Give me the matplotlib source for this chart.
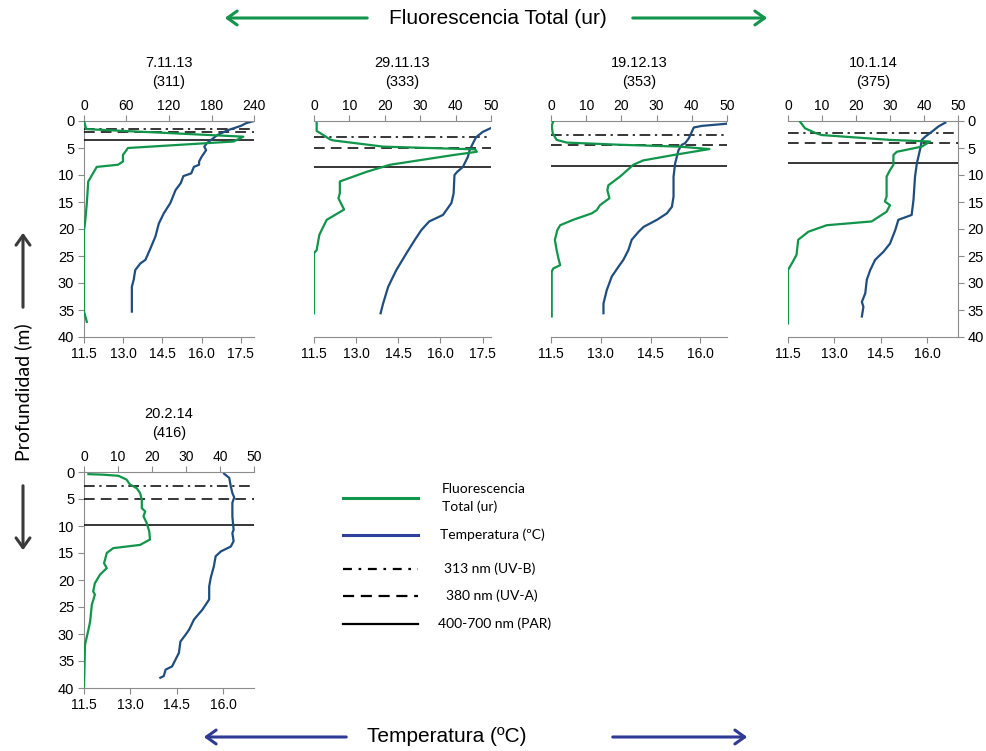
import matplotlib
matplotlib.use("Agg")
import matplotlib.pyplot as plt
from matplotlib.lines import Line2D
from matplotlib.patches import FancyArrowPatch

plt.rcParams['font.family'] = ['Liberation Sans', 'DejaVu Sans']

# ---- data ----
dates = ["7.11.13", "29.11.13", "19.12.13", "10.1.14", "20.2.14"]
days = ["(311)", "(333)", "(353)", "(375)", "(416)"]

# fluorescence (ur) vs depth (m)
fl_depth = [
    [0, 0.9, 1.5, 2.9, 3.8, 5.0, 6.3, 7.5, 8.1, 8.5, 11.2, 15.2, 19.0, 20.2, 35.3, 37.2],
    [0.4, 1.85, 2.3, 3.4, 3.6, 4.75, 5.25, 5.7, 6.3, 8.1, 9.4, 11.2, 13.4, 14.3, 16.4, 18.3,
     19.6, 21.1, 23.9, 24.5, 35.6],
    [0, 0.9, 2.3, 3.5, 4.0, 4.4, 4.75, 5.2, 6.3, 7.3, 8.1, 10.3, 11.9, 12.8, 14.3, 15.6, 16.5,
     17.1, 18.3, 19.3, 20.2, 22.0, 23.9, 25.4, 26.7, 27.3, 27.9, 36.2],
    [0.1, 1.35, 2.3, 2.6, 3.5, 3.8, 4.75, 5.7, 6.3, 8.1, 9.1, 10.3, 14.0, 14.9, 15.6, 16.8,
     18.6, 19.3, 20.5, 22.0, 24.8, 26.4, 27.6, 37.5],
    [0.4, 0.5, 0.7, 1.4, 2.3, 3.0, 3.9, 5.1, 6.7, 7.3, 8.2, 9.4, 11.0, 12.5, 13.5, 14.1, 15.0,
     16.9, 17.8, 19.0, 20.6, 22.1, 22.7, 24.6, 27.7, 29.2, 32.0, 39.7],
]
fl_vals = [
    [0, 1.9, 3, 225, 211, 62, 55, 55, 48, 18, 6, 4, 1.4, 0, 0, 4],
    [0.75, 0.75, 1.9, 4.5, 5.5, 19.6, 45.5, 46, 39.4, 21.5, 14.9, 7.3, 7.3, 6.9, 8.5, 3.6,
     2.6, 1.5, 0.75, 0, 0],
    [0.66, 0.2, 0.5, 1.6, 4.5, 19.6, 36.6, 45, 34.8, 26.2, 23.4, 19.6, 16.3, 16, 16.6, 13.9, 13,
     11.6, 6.3, 2.6, 1.8, 1.1, 1.6, 2.1, 2.6, 0.66, 0.2, 0.2],
    [3.5, 5, 8.4, 9.9, 30, 41.8, 39.3, 32, 31, 31, 30, 29, 29, 28.5, 30, 29,
     24.6, 11.4, 6, 3, 2.5, 1.1, 0, 0],
    [1.3, 5.7, 10.1, 12.5, 13.5, 15.5, 16.5, 17, 17, 18, 17.5, 18.4, 19.2, 19.4, 16.5, 8.6, 6.7,
     5.9, 6.7, 4.7, 3.2, 2.7, 3.2, 2.3, 1.8, 1.3, 0.3, 0],
]

# temperature (ºC) vs depth (m)
t_depth = [
    [0, 0.4, 0.9, 1.7, 2.6, 4.1, 4.75, 5.4, 6.6, 7.5, 8.1, 8.5, 9.7, 10.2, 11.5, 12.8, 15.2,
     17.1, 19.0, 21.4, 23.6, 25.7, 26.4, 27.6, 29.4, 30.7, 35.3],
    [1.35, 2.0, 3.0, 4.1, 5.4, 6.6, 8.5, 9.4, 10.0, 13.4, 15.2, 17.4, 18.6, 20.2, 22.0, 24.5,
     27.6, 30.7, 33.8, 35.6],
    [0, 0.5, 0.9, 1.2, 3.2, 4.1, 4.4, 5.4, 7.8, 10.3, 14.0, 15.9, 17.1, 18.3, 19.6, 20.5, 22.0,
     23.9, 25.7, 27.0, 28.8, 31.3, 33.8, 35.6],
    [0.3, 1.0, 2.0, 2.9, 3.5, 5.1, 7.8, 10.3, 14.6, 17.4, 18.3, 20.2, 22.7, 24.2, 25.7, 27.6,
     29.4, 31.9, 33.5, 34.4, 36.2],
    [0.3, 1.1, 2.7, 3.9, 4.7, 5.7, 8.2, 10.7, 11.3, 12.8, 13.8, 14.7, 15.6, 17.5, 19.6, 21.2,
     23.6, 25.5, 27.3, 29.2, 30.1, 31.4, 33.5, 36.0, 36.6, 37.8, 38.1],
]
t_vals = [
    [18.0, 17.7, 17.5, 17.0, 16.6, 16.2, 16.1, 16.17, 16.0, 15.9, 15.9, 15.7, 15.6, 15.3, 15.2,
     15.0, 14.8, 14.55, 14.36, 14.23, 14.04, 13.85, 13.65, 13.46, 13.4, 13.33, 13.33],
    [17.78, 17.51, 17.27, 17.16, 17.04, 16.98, 16.8, 16.6, 16.5, 16.47, 16.39, 16.09, 15.6,
     15.32, 15.09, 14.79, 14.43, 14.14, 13.96, 13.87],
    [16.85, 16.8, 16.05, 15.8, 15.65, 15.54, 15.44, 15.34, 15.24, 15.19, 15.19, 15.14, 14.99,
     14.69, 14.29, 14.14, 13.93, 13.83, 13.68, 13.53, 13.33, 13.18, 13.08, 13.08],
    [16.59, 16.37, 16.15, 15.94, 15.83, 15.78, 15.67, 15.61, 15.56, 15.5, 15.07, 14.97, 14.8,
     14.59, 14.32, 14.16, 14.05, 14.0, 13.89, 13.94, 13.89],
    [16.03, 16.2, 16.25, 16.3, 16.36, 16.3, 16.3, 16.34, 16.3, 16.34, 16.25, 15.93, 15.76, 15.7,
     15.6, 15.55, 15.55, 15.33, 15.06, 14.9, 14.79, 14.62, 14.57, 14.35, 14.14, 14.08, 13.97],
]

# light penetration depths (m)
uvb_depth = [1.5, 3.0, 2.5, 2.3, 2.5]
uva_depth = [2.0, 5.0, 4.4, 4.0, 5.0]
par_depth = [3.5, 8.5, 8.3, 7.8, 9.9]

fl_max = [240, 50, 50, 50, 50]
fl_ticks = [[0, 60, 120, 180, 240]] + [[0, 10, 20, 30, 40, 50]] * 4
t_max = [18.0, 17.8, 16.8, 17.0, 17.0]
t_ticks = [[11.5, 13.0, 14.5, 16.0, 17.5]] * 2 + [[11.5, 13.0, 14.5, 16.0]] * 3
depth_ticks = list(range(0, 41, 5))

# ---- layout ----
W, H = 987, 751
GREEN = "#10954a"
BLUE = "#1f4e7e"
GREY = "#8c8c8c"

# panel boxes in pixels: left, top, right, bottom
boxes = [(84, 121, 254, 337), (314, 121, 491, 337), (551, 121, 727, 337),
         (788, 121, 958, 337), (84, 472, 254, 688)]
yside = ["left", None, None, "right", "left"]

fig = plt.figure(figsize=(W / 100, H / 100), dpi=100)

for i in range(5):
    l, t, r, b = boxes[i]
    ax = fig.add_axes([l / W, 1 - b / H, (r - l) / W, (b - t) / H])
    ax.set_xlim(11.5, t_max[i])
    ax.set_ylim(40, 0)
    ax.set_xticks(t_ticks[i])
    ax.set_xticklabels([f"{v:.1f}" for v in t_ticks[i]])
    ax2 = ax.twiny()
    ax2.set_xlim(0, fl_max[i])
    ax2.set_xticks(fl_ticks[i])

    for a in (ax, ax2):
        for s in a.spines.values():
            s.set_visible(False)
            s.set_color(GREY)
    ax.spines["bottom"].set_visible(True)
    ax2.spines["top"].set_visible(True)
    ax.tick_params(axis="x", colors=GREY, labelcolor="black", labelsize=10, length=4, pad=3)
    ax2.tick_params(axis="x", colors=GREY, labelcolor="black", labelsize=10, length=4, pad=2)

    if yside[i] is None:
        ax.set_yticks([])
    else:
        ax.spines[yside[i]].set_visible(True)
        ax.set_yticks(depth_ticks)
        if yside[i] == "right":
            ax.yaxis.tick_right()
        ax.tick_params(axis="y", colors=GREY, labelcolor="black", labelsize=10.5, length=4, pad=3)

    ax.axhline(uvb_depth[i], color="black", lw=1.1, ls=(0, (7, 3, 1.5, 3)), zorder=3)
    ax.axhline(uva_depth[i], color="black", lw=1.1, ls=(0, (7, 4)), zorder=3)
    ax.axhline(par_depth[i], color="black", lw=1.1, zorder=3)

    ax.plot(t_vals[i], t_depth[i], color=BLUE, lw=1.6, zorder=4)
    ax2.plot(fl_vals[i], fl_depth[i], color=GREEN, lw=1.6, zorder=4)

    cx = (l + r) / 2 / W
    fig.text(cx, 1 - (t - 58) / H, dates[i], ha="center", va="center", fontsize=10.5)
    fig.text(cx, 1 - (t - 39) / H, days[i], ha="center", va="center", fontsize=10.5)


# ---- big axis labels with arrows ----
def arrow(x0, y0, x1, y1, color):
    fig.add_artist(FancyArrowPatch((x0 / W, 1 - y0 / H), (x1 / W, 1 - y1 / H),
                                   transform=fig.transFigure,
                                   arrowstyle="->,head_length=7,head_width=5",
                                   color=color, lw=2.2, mutation_scale=1))


arrow(370, 18, 222, 18, GREEN)
arrow(630, 18, 770, 18, GREEN)
fig.text(498 / W, 1 - 18 / H, "Fluorescencia Total (ur)", ha="center", va="center", fontsize=15)

arrow(349, 737, 201, 737, "#2e3a96")
arrow(610, 737, 750, 737, "#2e3a96")
fig.text(447 / W, 1 - 737 / H, "Temperatura (ºC)", ha="center", va="center", fontsize=15)

arrow(23, 310, 23, 230, "#3a3a3a")
arrow(23, 483, 23, 553, "#3a3a3a")
fig.text(23 / W, 1 - 392 / H, "Profundidad (m)", ha="center", va="center", rotation=90,
         fontsize=14, family=["Lato", "DejaVu Sans"])

# ---- legend ----
leg_items = [
    (498, GREEN, "-", "Fluorescencia\nTotal (ur)", 442, 2.2),
    (535, "#2e3f9e", "-", "Temperatura (ºC)", 440, 2.2),
    (569, "black", (0, (4, 3, 1.2, 3)), "313 nm (UV-B)", 444, 1.6),
    (596, "black", (0, (5, 3)), "380 nm (UV-A)", 446, 1.6),
    (624, "black", "-", "400-700 nm (PAR)", 438, 1.6),
]
for y, c, ls, label, tx, lw in leg_items:
    fig.add_artist(Line2D([343 / W, 418 / W], [1 - y / H, 1 - y / H], color=c, ls=ls, lw=lw,
                          transform=fig.transFigure))
    fig.text(tx / W, 1 - y / H, label, ha="left", va="center", fontsize=10,
             family=["Lato", "DejaVu Sans"], linespacing=1.5)

fig.savefig("out.png", dpi=100)
